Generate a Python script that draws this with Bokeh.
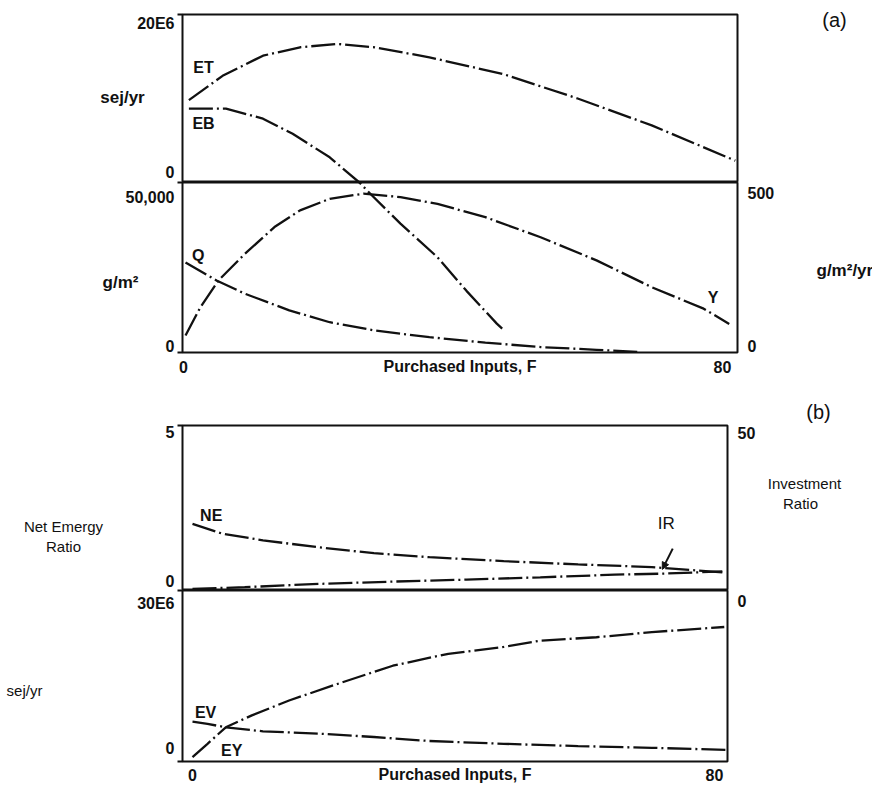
from bokeh.plotting import figure
from bokeh.models import Range1d, LinearAxis, FixedTicker, Label, Arrow, NormalHead
from bokeh.layouts import column
from bokeh.embed import file_html
from bokeh.resources import INLINE

# ---------------- data ----------------
F_TICKS = [0, 80]
F_LABELS = ["0", "80"]

# panel (a), upper part: emergy flows, sej/yr
ET_x = [0.8, 5.8, 11.8, 17.3, 22.8, 28.3, 36.5, 47.5, 58.5, 69.5, 81.9]
ET_y = [9.8e6, 12.7e6, 15.1e6, 16.1e6, 16.5e6, 16.1e6, 14.9e6, 12.9e6, 10.0e6, 6.8e6, 2.6e6]
EB_x = [0.8, 6.3, 11.8, 16.2, 21.7, 26.1, 27.8, 32.2, 37.7, 42.0, 46.5, 47.3]
EB_y = [8.8e6, 8.8e6, 7.6e6, 5.8e6, 3.0e6, 0.0, -1.4e6, -4.9e6, -8.9e6, -12.9e6, -16.8e6, -17.4e6]

# panel (a), lower part: storage Q (g/m2) and yield Y (g/m2/yr)
Q_x = [0.3, 4.9, 9.1, 15.7, 21.7, 28.3, 36.5, 44.8, 53.0, 61.3, 67.8]
Q_y = [26500, 21200, 17300, 12400, 8900, 6500, 4500, 2900, 1600, 800, 100]
Y_x = [0.3, 2.5, 5.2, 9.1, 13.5, 17.3, 21.7, 26.7, 32.2, 37.7, 44.8, 53.0, 61.3, 69.5, 77.2, 81.0]
Y_y = [50, 133, 212, 290, 369, 418, 452, 467, 457, 437, 398, 339, 271, 192, 129, 84]

# panel (b), upper part: net emergy ratio and investment ratio
NE_x = [0, 4.6, 10.8, 19.3, 27.8, 36.3, 47.7, 59.1, 70.4, 81.2]
NE_y = [2.02, 1.72, 1.52, 1.31, 1.13, 1.01, 0.89, 0.79, 0.71, 0.55]
IR_x = [0, 8.0, 19.3, 30.7, 42.0, 53.3, 64.7, 72.1, 81.2]
IR_y = [0.5, 1.0, 2.0, 2.7, 3.3, 4.0, 4.8, 5.1, 5.8]

# panel (b), lower part: EV and EY, sej/yr
EV_x = [0, 2.3, 5.1, 10.8, 19.3, 27.8, 36.3, 47.7, 59.1, 70.4, 81.8]
EV_y = [7.0e6, 6.6e6, 6.0e6, 5.3e6, 4.9e6, 4.3e6, 3.6e6, 3.1e6, 2.7e6, 2.4e6, 2.05e6]
EY_x = [0, 2.3, 5.1, 9.1, 14.8, 22.2, 30.7, 39.2, 47.7, 53.3, 61.9, 70.4, 81.5]
EY_y = [0.75e6, 3.1e6, 6.0e6, 8.1e6, 10.7e6, 13.6e6, 16.8e6, 18.9e6, 20.1e6, 21.2e6, 21.8e6, 22.7e6, 23.6e6]

# axis end values (where the small tick marks sit)
A1_ENDS = [0, 20e6]
A2_ENDS = [0, 50000]
B1_ENDS = [0, 5]
B2_ENDS = [0, 30e6]

# ---------------- layout constants (page pixels, page has no margin) ----------------
LEFT = 182                      # shared frame left edge
RIGHT_BORDER = 135              # shared right border
A_R, A_T, A_M, A_B = 737, 14, 182, 352
B_R, B_T, B_M, B_B = 727, 425, 590, 761
A2_CANVAS_BOTTOM = 382
B2_CANVAS_BOTTOM = 789
A_X0, A_X80 = 183, 722
B_X0, B_X80 = 192, 714

FONT = "Liberation Sans"
INK = "#111111"
DASH = "24 4 2 4"
LW = 2.3


def xr_for(left, right, x0, x80):
    s = (x80 - x0) / 80.0
    return Range1d((left - x0) / s, (right - x0) / s)


XA = xr_for(LEFT, A_R, A_X0, A_X80)
XB = xr_for(LEFT, B_R, B_X0, B_X80)


def yval(py, ft, fb, r):
    return r.start + (fb - py) / (fb - ft) * (r.end - r.start)


def panel(frame_right, canvas_top, frame_top, frame_bottom, canvas_bottom, xr, yr):
    p = figure(width=frame_right + RIGHT_BORDER, height=canvas_bottom - canvas_top,
               x_range=xr, y_range=yr,
               output_backend="svg", toolbar_location=None,
               x_axis_location=None, y_axis_location=None,
               min_border_left=LEFT, min_border_right=RIGHT_BORDER,
               min_border_top=frame_top - canvas_top,
               min_border_bottom=canvas_bottom - frame_bottom)
    p.grid.visible = False
    p.outline_line_color = INK
    p.outline_line_width = 2
    p.background_fill_color = "white"
    p.border_fill_color = "white"
    return p


def style(ax, size="16px", bold=True, standoff=6):
    for k in ("major_tick_in", "major_tick_out", "minor_tick_in", "minor_tick_out"):
        setattr(ax, k, 0)
    ax.axis_line_color = None
    ax.major_label_text_font = FONT
    ax.major_label_text_font_size = size
    ax.major_label_text_font_style = "bold" if bold else "normal"
    ax.major_label_text_color = INK
    ax.major_label_standoff = standoff


def add_tickmarks(p, ends):
    ax = LinearAxis(ticker=FixedTicker(ticks=ends, minor_ticks=[]))
    style(ax, size="0px", standoff=0)
    ax.major_label_overrides = {t: "" for t in ends}
    ax.major_tick_out = 5
    ax.major_tick_line_width = 2
    ax.major_tick_line_color = INK
    p.add_layout(ax, "left")


def add_yaxis(p, side, pairs, frame, rng, range_name=None, standoff=3):
    ft, fb = frame
    ticks = [round(yval(py, ft, fb, rng), 6) for py, _ in pairs]
    kw = {"y_range_name": range_name} if range_name else {}
    ax = LinearAxis(ticker=FixedTicker(ticks=ticks, minor_ticks=[]), **kw)
    ax.major_label_overrides = {t: lab for t, (_, lab) in zip(ticks, pairs)}
    style(ax, standoff=standoff)
    p.add_layout(ax, side)


def add_xaxis(p, standoff, title, title_standoff):
    ax = LinearAxis(ticker=FixedTicker(ticks=F_TICKS, minor_ticks=[]))
    ax.major_label_overrides = dict(zip(F_TICKS, F_LABELS))
    style(ax, standoff=standoff)
    ax.axis_label = title
    ax.axis_label_text_font = FONT
    ax.axis_label_text_font_size = "16px"
    ax.axis_label_text_font_style = "bold"
    ax.axis_label_text_color = INK
    ax.axis_label_standoff = title_standoff
    p.add_layout(ax, "below")


def note(p, x, y, text, size="16px", bold=True, align="center", range_name=None, side=None):
    kw = {"y_range_name": range_name} if range_name else {}
    lab = Label(x=x, y=y, text=text, text_font=FONT, text_font_size=size,
                text_font_style="bold" if bold else "normal", text_color=INK,
                text_align=align, text_baseline="middle", **kw)
    if side is None:
        p.add_layout(lab)
    else:
        p.add_layout(lab, side)


def page_note(p, side, px, py, frame, text, size="16px", bold=True, align="center"):
    fl, fr, ft, fb = frame
    xr, yr = p.x_range, p.y_range
    x = xr.start + (px - fl) / (fr - fl) * (xr.end - xr.start)
    y = yval(py, ft, fb, yr)
    note(p, x, y, text, size, bold, align, side=side)


# ---------------- panel (a), upper ----------------
ya1 = Range1d(0, 20e6)
a1 = panel(A_R, 0, A_T, A_M, A_M, XA, ya1)
add_tickmarks(a1, A1_ENDS)
add_yaxis(a1, "left", [(23, "20E6"), (172, "0")], (A_T, A_M), ya1)
a1.line(ET_x, ET_y, line_color=INK, line_width=LW, line_dash=DASH)
a1.line(EB_x, EB_y, line_color=INK, line_width=LW, line_dash=DASH)
note(a1, 2.97, 13.7e6, "ET")
note(a1, 2.97, 7.0e6, "EB")
fa1 = (LEFT, A_R, A_T, A_M)
page_note(a1, "right", 834, 19, fa1, "(a)", size="20px", bold=False)
page_note(a1, "left", 122, 97, fa1, "sej/yr", size="17px")

# ---------------- panel (a), lower ----------------
ya2 = Range1d(0, 50000)
yr_a2 = Range1d(0, 500)
a2 = panel(A_R, A_M, A_M, A_B, A2_CANVAS_BOTTOM, XA, ya2)
a2.extra_y_ranges = {
    "yr": yr_a2,
    "sej": Range1d(-20e6 * (A_B - A_M) / (A_M - A_T), 0),
}
add_tickmarks(a2, A2_ENDS)
add_yaxis(a2, "left", [(196, "50,000"), (345, "0")], (A_M, A_B), ya2)
add_yaxis(a2, "right", [(192, "500"), (345, "0")], (A_M, A_B), yr_a2, range_name="yr", standoff=10)
add_xaxis(a2, 8, "Purchased Inputs, F", -18)
a2.line(EB_x, EB_y, line_color=INK, line_width=LW, line_dash=DASH, y_range_name="sej")
a2.line(Q_x, Q_y, line_color=INK, line_width=LW, line_dash=DASH)
a2.line(Y_x, Y_y, line_color=INK, line_width=LW, line_dash=DASH, y_range_name="yr")
note(a2, 2.2, 28500, "Q")
note(a2, 78.6, 163, "Y", range_name="yr")
fa2 = (LEFT, A_R, A_M, A_B)
page_note(a2, "left", 120, 282, fa2, "g/m²", size="17px")
page_note(a2, "right", 816, 270, fa2, "g/m²/yr", size="17px", align="left")

# ---------------- panel (b), upper ----------------
yb1 = Range1d(0, 5)
ir_b1 = Range1d(0, 50)
b1 = panel(B_R, A2_CANVAS_BOTTOM, B_T, B_M, B_M, XB, yb1)
b1.extra_y_ranges = {"ir": ir_b1}
add_tickmarks(b1, B1_ENDS)
add_yaxis(b1, "left", [(432, "5"), (580, "0")], (B_T, B_M), yb1)
add_yaxis(b1, "right", [(432, "50")], (B_T, B_M), ir_b1, range_name="ir", standoff=10)
b1.line(NE_x, NE_y, line_color=INK, line_width=LW, line_dash=DASH)
b1.line(IR_x, IR_y, line_color=INK, line_width=LW, line_dash=DASH, y_range_name="ir")
note(b1, 2.87, 2.27, "NE")
note(b1, 72.6, 2.03, "IR", size="17px", bold=False)
b1.add_layout(Arrow(end=NormalHead(size=7, fill_color=INK, line_color=INK),
                    x_start=73.6, y_start=1.27, x_end=72.0, y_end=0.64,
                    line_color=INK, line_width=2))
fb1 = (LEFT, B_R, B_T, B_M)
page_note(b1, "left", 818, 411, fb1, "(b)", size="20px", bold=False)
page_note(b1, "left", 63, 526, fb1, "Net Emergy", size="15px", bold=False)
page_note(b1, "left", 63, 546, fb1, "Ratio", size="15px", bold=False)
page_note(b1, "right", 804, 483, fb1, "Investment", size="15px", bold=False)
page_note(b1, "above", 800, 503, fb1, "Ratio", size="15px", bold=False)

# ---------------- panel (b), lower ----------------
yb2 = Range1d(0, 30e6)
ir_b2 = Range1d(-50 * (B_B - B_M) / (B_M - B_T), 0)
b2 = panel(B_R, B_M, B_M, B_B, B2_CANVAS_BOTTOM, XB, yb2)
b2.extra_y_ranges = {"ir": ir_b2}
add_tickmarks(b2, B2_ENDS)
add_yaxis(b2, "left", [(603, "30E6"), (748, "0")], (B_M, B_B), yb2)
add_yaxis(b2, "right", [(600, "0")], (B_M, B_B), ir_b2, range_name="ir", standoff=10)
add_xaxis(b2, 7, "Purchased Inputs, F", -18)
b2.line(EV_x, EV_y, line_color=INK, line_width=LW, line_dash=DASH)
b2.line(EY_x, EY_y, line_color=INK, line_width=LW, line_dash=DASH)
note(b2, 2.0, 8.65e6, "EV")
note(b2, 6.0, 1.9e6, "EY")
fb2 = (LEFT, B_R, B_M, B_B)
page_note(b2, "left", 24, 690, fb2, "sej/yr", size="15px", bold=False)

layout = column(a1, a2, b1, b2, spacing=0)
open("out.html", "w").write(file_html(layout, INLINE))
